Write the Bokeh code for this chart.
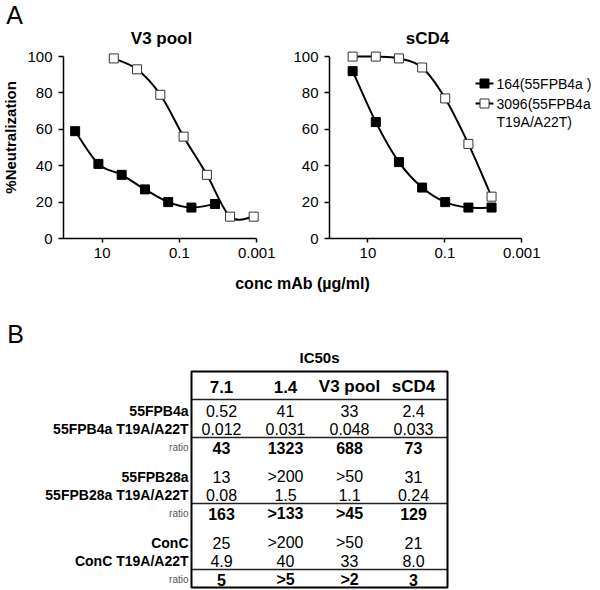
import numpy as np
from bokeh.plotting import figure
from bokeh.models import Range1d, FixedTicker, Label, LinearScale, ColumnDataSource
from bokeh.layouts import column, row
from bokeh.embed import file_html
from bokeh.resources import INLINE
from bokeh.core.properties import value

FONT = "Liberation Sans"

# ---------------- Panel A data ----------------
CONC_V3_164 = [50, 12.5, 3.125, 0.78, 0.195, 0.049, 0.012]
NEUT_V3_164 = [59, 41, 35, 27, 20, 17, 19]
CONC_V3_3096 = [5, 1.25, 0.3125, 0.078, 0.0195, 0.0049, 0.0012]
NEUT_V3_3096 = [99, 93, 79, 56, 35, 12, 12]
CONC_SCD4 = [25, 6.25, 1.5625, 0.39, 0.098, 0.0244, 0.0061]
NEUT_SCD4_164 = [92, 64, 42, 28, 20, 17, 17]
NEUT_SCD4_3096 = [100, 100, 99, 94, 77, 52, 23]

X_TICKS = [10, 0.1, 0.001]
X_TICK_LABELS = ["10", "0.1", "0.001"]
Y_TICKS = [0, 20, 40, 60, 80, 100]
LEGEND_164 = "164(55FPB4a )"
LEGEND_3096 = ["3096(55FPB4a", "T19A/A22T)"]
X_LABEL = "conc mAb (µg/ml)"
Y_LABEL = "%Neutralization"
TITLES = ["V3 pool", "sCD4"]

# ---------------- Panel B data ----------------
TABLE_TITLE = "IC50s"
COLUMNS = ["7.1", "1.4", "V3 pool", "sCD4"]
GROUP_WT = ["55FPB4a", "55FPB28a", "ConC"]
GROUP_MUT = ["55FPB4a T19A/A22T", "55FPB28a T19A/A22T", "ConC T19A/A22T"]
IC50_WT = [["0.52", "41", "33", "2.4"],
           ["13", ">200", ">50", "31"],
           ["25", ">200", ">50", "21"]]
IC50_MUT = [["0.012", "0.031", "0.048", "0.033"],
            ["0.08", "1.5", "1.1", "0.24"],
            ["4.9", "40", "33", "8.0"]]
RATIO = [["43", "1323", "688", "73"],
         ["163", ">133", ">45", "129"],
         ["5", ">5", ">2", "3"]]

# ---------------- layout constants (page pixels, origin top-left) ----------------
PAGE_W, PAGE_H = 600, 590
STRIP_H = 47          # strip above the charts (panel letter + titles)
ROW_H = 221           # chart row height
YLAB_W = 22
W1 = 268
W2 = PAGE_W - YLAB_W - W1
MB1 = dict(left=41, right=30, top=0, bottom=30)
MB2 = dict(left=39, right=0, top=0, bottom=30)
X_END1 = 0.0008          # right end of x range, left chart
X_END2 = 10 ** -5.048    # right end of x range, right chart (frame runs to page edge)


def smooth_segments(xs, ys):
    """Excel-like smoothed line: cubic Bezier segments in (log10 x, y) space."""
    lx = np.log10(np.asarray(xs, float))
    y = np.asarray(ys, float)
    P = np.column_stack([lx, y])
    E = np.vstack([P[0], P, P[-1]])
    d = {k: [] for k in ["x0", "y0", "x1", "y1", "cx0", "cy0", "cx1", "cy1"]}
    for i in range(len(P) - 1):
        pm, p0, p1, pn = E[i], E[i + 1], E[i + 2], E[i + 3]
        c0 = p0 + (p1 - pm) / 6.0
        c1 = p1 - (pn - p0) / 6.0
        d["x0"].append(10 ** p0[0]); d["y0"].append(p0[1])
        d["x1"].append(10 ** p1[0]); d["y1"].append(p1[1])
        d["cx0"].append(10 ** c0[0]); d["cy0"].append(c0[1])
        d["cx1"].append(10 ** c1[0]); d["cy1"].append(c1[1])
    return ColumnDataSource(d)


def plain_fig(width, height, x0, x1, y_bottom, y_top):
    f = figure(width=width, height=height, x_range=Range1d(x0, x1),
               y_range=Range1d(y_bottom, y_top), output_backend="svg",
               toolbar_location=None, x_axis_location=None, y_axis_location=None,
               min_border=0, min_border_left=0, min_border_right=0,
               min_border_top=0, min_border_bottom=0)
    f.outline_line_color = None
    f.grid.visible = False
    return f


def make_chart(width, mb, page_left, x_end, series):
    p = figure(width=width, height=ROW_H, x_axis_type="log",
               x_range=Range1d(100, x_end), y_range=Range1d(0, 105),
               output_backend="svg", toolbar_location=None,
               min_border_left=mb["left"], min_border_right=mb["right"],
               min_border_top=mb["top"], min_border_bottom=mb["bottom"])
    p.outline_line_color = None
    p.grid.visible = False
    # page-pixel coordinate system for in-frame decorations
    p.extra_x_ranges = {"px": Range1d(page_left + mb["left"], page_left + width - mb["right"])}
    p.extra_y_ranges = {"py": Range1d(STRIP_H + ROW_H - mb["bottom"], STRIP_H + mb["top"])}
    p.extra_x_scales = {"px": LinearScale()}
    p.extra_y_scales = {"py": LinearScale()}

    for ax in (p.xaxis[0], p.yaxis[0]):
        ax.axis_line_color = "black"
        ax.axis_line_width = 1.5
        ax.major_tick_line_color = "black"
        ax.major_tick_line_width = 1.5
        ax.major_tick_in = 0
        ax.minor_tick_line_color = None
        ax.major_label_text_font = FONT
        ax.major_label_text_font_size = "15px"
        ax.major_label_text_color = "black"
    p.xaxis.ticker = FixedTicker(ticks=X_TICKS, minor_ticks=[])
    p.xaxis.major_label_overrides = {t: l for t, l in zip(X_TICKS, X_TICK_LABELS)}
    p.xaxis.bounds = (0.001, 100)
    p.xaxis.major_tick_out = 4
    p.xaxis.major_label_standoff = 5
    p.yaxis.ticker = FixedTicker(ticks=Y_TICKS, minor_ticks=[])
    p.yaxis.bounds = (0, 100)
    p.yaxis.major_tick_out = 5
    p.yaxis.major_label_standoff = 6

    for xs, ys, filled in series:
        src = smooth_segments(xs, ys)
        p.bezier(x0="x0", y0="y0", x1="x1", y1="y1", cx0="cx0", cy0="cy0",
                 cx1="cx1", cy1="cy1", source=src, line_color="black", line_width=2)
    for xs, ys, filled in series:
        p.scatter(x=xs, y=ys, marker="square", size=9,
                  fill_color="black" if filled else "white",
                  line_color="black" if filled else "#333333", line_width=1)
    return p


# ---- strip with panel letter and chart titles ----
strip = plain_fig(PAGE_W, STRIP_H, 0, PAGE_W, STRIP_H, 0)
strip.add_layout(Label(x=14, y=14, text="A", text_font=FONT, text_font_size="25px",
                       text_align="center", text_baseline="middle", text_color="black"))
for t, tx in zip(TITLES, [161, 427]):
    strip.add_layout(Label(x=tx, y=38, text=t, text_font=FONT, text_font_size="17px",
                           text_font_style="bold", text_align="center",
                           text_baseline="middle", text_color="black"))

# ---- y label column ----
ylab = plain_fig(YLAB_W, ROW_H, 0, YLAB_W, STRIP_H + ROW_H, STRIP_H)
ylab.add_layout(Label(x=10, y=151, text=Y_LABEL, angle=np.pi / 2, text_font=FONT,
                      text_font_size="15px", text_font_style="bold", text_align="center",
                      text_baseline="middle", text_color="black"))

# ---- charts ----
p1 = make_chart(W1, MB1, YLAB_W, X_END1,
                [(CONC_V3_164, NEUT_V3_164, True), (CONC_V3_3096, NEUT_V3_3096, False)])
p2 = make_chart(W2, MB2, YLAB_W + W1, X_END2,
                [(CONC_SCD4, NEUT_SCD4_164, True), (CONC_SCD4, NEUT_SCD4_3096, False)])

# legend (manual, inside the right chart's frame)
LEG_X0, LEG_X1, LEG_TX = 475, 493, 496
LEG_Y = [83, 103, 121]
for yy, filled in zip(LEG_Y[:2], [True, False]):
    p2.segment(x0=[LEG_X0], y0=[yy], x1=[LEG_X1], y1=[yy], x_range_name="px",
               y_range_name="py", line_color="black", line_width=2)
    p2.scatter(x=[(LEG_X0 + LEG_X1) / 2], y=[yy], x_range_name="px", y_range_name="py",
               marker="square", size=9, fill_color="black" if filled else "white",
               line_color="black" if filled else "#333333", line_width=1)
for t, yy in zip([LEGEND_164] + LEGEND_3096, LEG_Y):
    p2.add_layout(Label(x=LEG_TX, y=yy, x_range_name="px", y_range_name="py", text=t,
                        text_font=FONT, text_font_size="14px", text_align="left",
                        text_baseline="middle", text_color="black"))

# ---------------- bottom figure: x label + panel B table ----------------
TOP_BOT = STRIP_H + ROW_H
p3 = plain_fig(PAGE_W, PAGE_H - TOP_BOT, 0, PAGE_W, PAGE_H, TOP_BOT)

p3.add_layout(Label(x=302, y=283, text=X_LABEL, text_font=FONT, text_font_size="16px",
                    text_font_style="bold", text_align="center", text_baseline="middle",
                    text_color="black"))
p3.add_layout(Label(x=15, y=333, text="B", text_font=FONT, text_font_size="25px",
                    text_align="center", text_baseline="middle", text_color="black"))

T_LEFT, T_RIGHT, T_TOP, T_BOTTOM = 191, 447, 371, 587
COL_X0, COL_DX = 221, 64
HDR_Y, HDR_LINE = 386, 399
ROW0, GROUP_DY = 410, 66
LABEL_X = 188

p3.add_layout(Label(x=(T_LEFT + T_RIGHT) / 2, y=357, text=TABLE_TITLE, text_font=FONT,
                    text_font_size="15px", text_font_style="bold", text_align="center",
                    text_baseline="middle", text_color="black"))

col_x = [COL_X0 + COL_DX * j for j in range(len(COLUMNS))]

p3.text(x=col_x, y=[HDR_Y] * len(COLUMNS), text=COLUMNS, text_font=value(FONT),
        text_font_size=value("17px"), text_font_style="bold", text_align="center",
        text_baseline="middle", text_color="black")

cx, cy, ct = [], [], []
rx, ry, rt = [], [], []
nx, ny, nt = [], [], []
lines_y = [HDR_LINE]
ratio_lab_y = []
for g in range(len(GROUP_WT)):
    y1 = ROW0 + GROUP_DY * g
    y2 = y1 + 18
    yl = y1 + 27
    yr = y1 + 37
    lines_y.append(yl)
    ratio_lab_y.append(yr)
    for j in range(len(COLUMNS)):
        cx += [col_x[j], col_x[j]]
        cy += [y1, y2]
        ct += [IC50_WT[g][j], IC50_MUT[g][j]]
        rx.append(col_x[j]); ry.append(yr); rt.append(RATIO[g][j])
    nx += [LABEL_X, LABEL_X]
    ny += [y1, y2]
    nt += [GROUP_WT[g], GROUP_MUT[g]]

p3.text(x=cx, y=cy, text=ct, text_font=value(FONT), text_font_size=value("16px"),
        text_align="center", text_baseline="middle", text_color="black")
p3.text(x=rx, y=ry, text=rt, text_font=value(FONT), text_font_size=value("16px"),
        text_font_style="bold", text_align="center", text_baseline="middle",
        text_color="black")
p3.text(x=nx, y=ny, text=nt, text_font=value(FONT), text_font_size=value("14px"),
        text_font_style="bold", text_align="right", text_baseline="middle",
        text_color="black")
p3.text(x=[LABEL_X] * len(ratio_lab_y), y=ratio_lab_y, text=["ratio"] * len(ratio_lab_y),
        text_font=value(FONT), text_font_size=value("10px"), text_align="right",
        text_baseline="middle", text_color="#555555")

p3.segment(x0=[T_LEFT] * len(lines_y), x1=[T_RIGHT] * len(lines_y), y0=lines_y, y1=lines_y,
           line_color="#222222", line_width=1.5)
p3.quad(left=[T_LEFT], right=[T_RIGHT], top=[T_TOP], bottom=[T_BOTTOM],
        fill_color=None, line_color="black", line_width=2)

layout = column(strip, row(ylab, p1, p2), p3)
open("out.html", "w").write(file_html(layout, INLINE))
